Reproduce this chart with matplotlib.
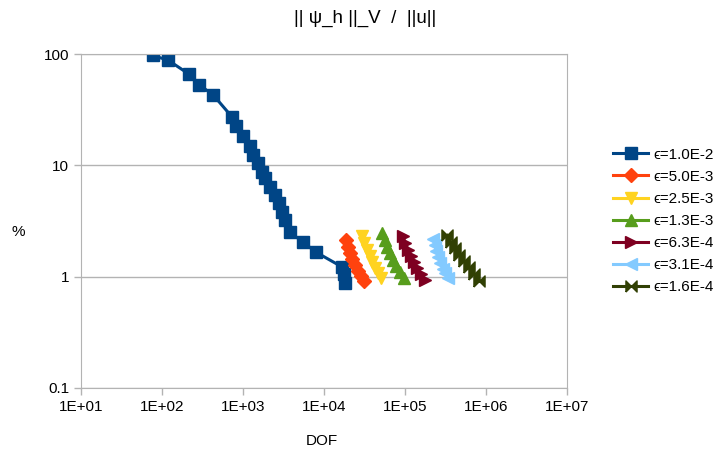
import numpy as np
import matplotlib
matplotlib.use('Agg')
import matplotlib.pyplot as plt
from matplotlib.ticker import FixedLocator, FuncFormatter, NullLocator

plt.rcParams['font.family'] = ['Liberation Sans', 'DejaVu Sans']

# data (DOF, error %)
labels = ['ϵ=1.0E-2', 'ϵ=5.0E-3', 'ϵ=2.5E-3', 'ϵ=1.3E-3', 'ϵ=6.3E-4', 'ϵ=3.1E-4', 'ϵ=1.6E-4']
colors = ['#004586', '#ff420e', '#ffd320', '#579d1c', '#7e0021', '#83caff', '#314004']

dof_1 = [77, 119, 215, 286, 427, 732, 820, 1000, 1220, 1330, 1530, 1720, 1870, 2160,
         2480, 2780, 3030, 3300, 3800, 5500, 7960, 16800, 17600, 18000]
err_1 = [97, 88, 66, 53, 43, 27.2, 22.5, 18.3, 14.9, 12.4, 10.5, 8.7, 7.7, 6.4,
         5.4, 4.6, 3.8, 3.2, 2.5, 2.05, 1.66, 1.22, 1.05, 0.87]
dof_2 = [18800, 19700, 20800, 22200, 24000, 26200, 28700, 31400]
err_2 = [2.13, 1.85, 1.62, 1.43, 1.27, 1.13, 1.01, 0.91]
dof_3 = [29400, 31500, 33800, 36500, 39300, 42700, 46500, 50600]
err_3 = [2.3, 2.0, 1.75, 1.54, 1.36, 1.2, 1.08, 0.97]
dof_4 = [52000, 56000, 60500, 65500, 71500, 78500, 87000, 97300]
err_4 = [2.45, 2.12, 1.85, 1.62, 1.42, 1.25, 1.1, 0.97]
dof_5 = [94400, 101000, 109000, 118000, 129000, 142000, 158000, 177000]
err_5 = [2.3, 2.0, 1.75, 1.53, 1.35, 1.19, 1.05, 0.93]
dof_6 = [222000, 232000, 244000, 258000, 274000, 292000, 314000, 340000]
err_6 = [2.2, 1.93, 1.7, 1.5, 1.33, 1.18, 1.07, 0.97]
dof_7 = [330000, 370000, 415000, 470000, 535000, 610000, 710000, 830000]
err_7 = [2.35, 2.05, 1.8, 1.58, 1.38, 1.21, 1.06, 0.92]

bowtie = [(-1, -1), (1, 1), (1, -1), (-1, 1), (-1, -1)]
markers = ['s', 'D', 'v', '^', '>', '<', bowtie]
sizes = [9, 7, 9, 9, 9, 9, 8]

series = [(dof_1, err_1), (dof_2, err_2), (dof_3, err_3), (dof_4, err_4),
          (dof_5, err_5), (dof_6, err_6), (dof_7, err_7)]

fig = plt.figure(figsize=(7.25, 4.57), dpi=100)
ax = fig.add_axes([81/725, 1-388/457, (567-81)/725, (388-54)/457])

for (x, y), lab, c, m, s in zip(series, labels, colors, markers, sizes):
    ax.plot(x, y, color=c, lw=2.2, marker=m, markersize=s, label=lab,
            markeredgecolor=c)

ax.set_xscale('log')
ax.set_yscale('log')
ax.set_xlim(10, 1e7)
ax.set_ylim(0.1, 100)
ax.xaxis.set_major_locator(FixedLocator([10**k for k in range(1, 8)]))
ax.xaxis.set_minor_locator(NullLocator())
ax.yaxis.set_major_locator(FixedLocator([0.1, 1, 10, 100]))
ax.yaxis.set_minor_locator(NullLocator())
ax.xaxis.set_major_formatter(FuncFormatter(lambda v, p: '1E+%02d' % round(np.log10(v))))
ax.yaxis.set_major_formatter(FuncFormatter(lambda v, p: '%g' % v))

ax.grid(True, axis='y', color='#b3b3b3', lw=1)
ax.set_axisbelow(True)
for sp in ax.spines.values():
    sp.set_color('#b3b3b3')
ax.tick_params(colors='#b3b3b3', labelcolor='black', labelsize=11, length=5, width=1)

fig.text(365/725, 1-18/457, '|| ψ_h ||_V  /  ||u||', ha='center', va='center', fontsize=13.5)
fig.text(18/725, 1-232/457, '%', ha='center', va='center', fontsize=11)
fig.text(322/725, 1-441/457, 'DOF', ha='center', va='center', fontsize=11)

ax.legend(loc='center left', bbox_to_anchor=(607/725, 1-221/457), bbox_transform=fig.transFigure,
          frameon=False, fontsize=11, handlelength=2.3, handletextpad=0.35, labelspacing=0.53,
          borderaxespad=0)

plt.savefig('out.png', dpi=100)
